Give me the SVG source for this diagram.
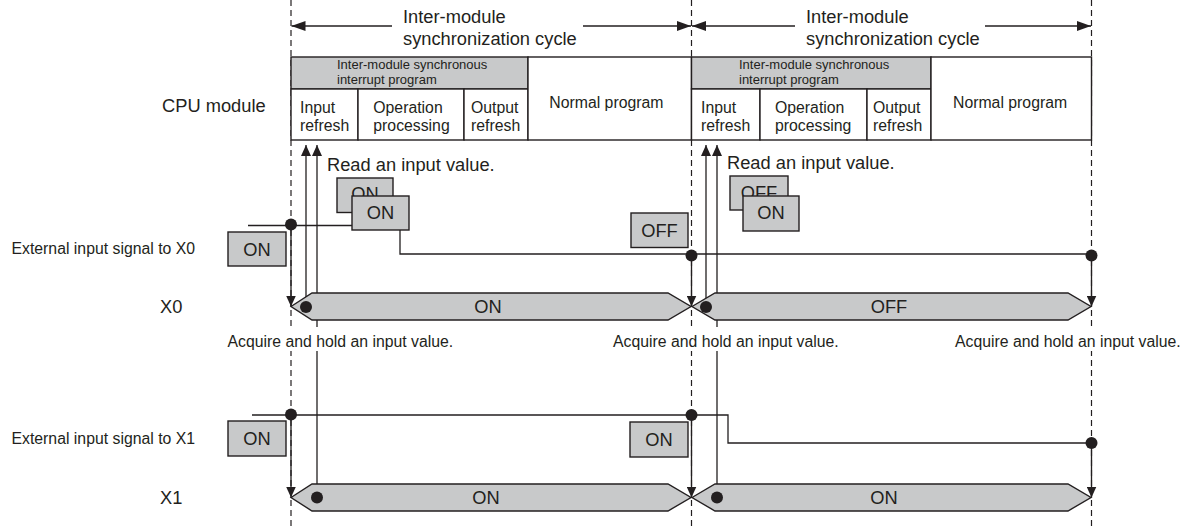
<svg xmlns="http://www.w3.org/2000/svg" width="1187" height="526" viewBox="0 0 1187 526">
<defs>
<style>
text{font-family:"Liberation Sans",Arial,sans-serif;fill:#231f20}
.t18{font-size:18.3px}
.t16{font-size:15.8px}
.t13{font-size:13px}
.c{text-anchor:middle}
.ln{stroke:#231f20;stroke-width:1.3;fill:none}
.dash{stroke:#231f20;stroke-width:1.2;stroke-dasharray:6 4;fill:none}
.box{fill:#c8c9ca;stroke:#231f20;stroke-width:1.4}
.cell{fill:#fff;stroke:#231f20;stroke-width:1.4}
.dot{fill:#231f20}
.ko{fill:#fff}
</style>
<marker id="ah" viewBox="0 0 11 10" refX="11" refY="5" markerWidth="11" markerHeight="10" markerUnits="userSpaceOnUse" orient="auto"><path d="M0,0L11,5L0,10z" fill="#231f20"/></marker>
<marker id="ahc" viewBox="0 0 14 10" refX="14" refY="5" markerWidth="14" markerHeight="10" markerUnits="userSpaceOnUse" orient="auto"><path d="M0,0L14,5L0,10z" fill="#231f20"/></marker>
</defs>
<rect width="1187" height="526" fill="#fff"/>

<g id="guides">
<line class="dash" x1="291" y1="0" x2="291" y2="526"/>
<line class="dash" x1="691.5" y1="0" x2="691.5" y2="526"/>
<line class="dash" x1="1091.5" y1="0" x2="1091.5" y2="526"/>
</g>

<g id="cycle1">
<text class="t18" x="403" y="22.5">Inter-module</text>
<text class="t18" x="403" y="45">synchronization cycle</text>
</g>
<g id="cycle2">
<text class="t18" x="806" y="22.5">Inter-module</text>
<text class="t18" x="806" y="45">synchronization cycle</text>
</g>

<g id="labels">
<text class="t18" x="162" y="111.5">CPU module</text>
<text class="t16" x="11.5" y="253.5">External input signal to X0</text>
<text class="t18" x="160" y="312.5">X0</text>
<text class="t16" x="11.5" y="444">External input signal to X1</text>
<text class="t18" x="160" y="504">X1</text>
<text class="t18" x="327" y="171">Read an input value.</text>
<text class="t18" x="727" y="169">Read an input value.</text>
</g>

<g id="cpu1">
<rect class="box" x="291" y="57" width="237" height="32"/>
<rect class="cell" x="291" y="89" width="67" height="51"/>
<rect class="cell" x="358" y="89" width="106" height="51"/>
<rect class="cell" x="464" y="89" width="64" height="51"/>
<rect class="cell" x="528" y="57" width="163.5" height="83"/>
<text class="t13" x="337" y="68.5">Inter-module synchronous</text>
<text class="t13" x="337" y="83.5">interrupt program</text>
<text class="t16" x="300" y="113.3">Input</text>
<text class="t16" x="300" y="131">refresh</text>
<text class="t16" x="373.3" y="113.3">Operation</text>
<text class="t16" x="373.3" y="131">processing</text>
<text class="t16" x="471" y="113.3">Output</text>
<text class="t16" x="471" y="131">refresh</text>
<text class="t16" x="549.3" y="108.3">Normal program</text>
</g>
<g id="cpu2">
<rect class="box" x="691.5" y="57" width="239.5" height="32"/>
<rect class="cell" x="691.5" y="89" width="68.5" height="51"/>
<rect class="cell" x="760" y="89" width="107" height="51"/>
<rect class="cell" x="867" y="89" width="64" height="51"/>
<rect class="cell" x="931" y="57" width="160.5" height="83"/>
<text class="t13" x="739" y="68.5">Inter-module synchronous</text>
<text class="t13" x="739" y="83.5">interrupt program</text>
<text class="t16" x="701" y="113.3">Input</text>
<text class="t16" x="701" y="131">refresh</text>
<text class="t16" x="775" y="113.3">Operation</text>
<text class="t16" x="775" y="131">processing</text>
<text class="t16" x="873" y="113.3">Output</text>
<text class="t16" x="873" y="131">refresh</text>
<text class="t16" x="953" y="108.3">Normal program</text>
</g>

<g id="connectors">
<line class="ln" x1="392" y1="26" x2="291.5" y2="26" marker-end="url(#ahc)"/>
<line class="ln" x1="583" y1="26" x2="691" y2="26" marker-end="url(#ahc)"/>
<line class="ln" x1="795" y1="26" x2="692" y2="26" marker-end="url(#ahc)"/>
<line class="ln" x1="985" y1="26" x2="1091" y2="26" marker-end="url(#ahc)"/>
<path class="ln" d="M248,225.5H400V254H1091.5"/>
<path class="ln" d="M252,415H728V443H1091.5"/>
<line class="ln" x1="306" y1="307" x2="306" y2="145" marker-end="url(#ah)"/>
<line class="ln" x1="317" y1="497" x2="317" y2="145" marker-end="url(#ah)"/>
<line class="ln" x1="706" y1="307" x2="706" y2="145" marker-end="url(#ah)"/>
<line class="ln" x1="717" y1="497" x2="717" y2="145" marker-end="url(#ah)"/>
</g>

<g id="acquire1"><rect class="ko" x="226" y="327" width="232" height="24"/><text class="t16" x="227.5" y="347">Acquire and hold an input value.</text></g>
<g id="acquire2"><rect class="ko" x="611" y="327" width="232" height="24"/><text class="t16" x="613" y="347">Acquire and hold an input value.</text></g>
<g id="acquire3"><rect class="ko" x="953" y="327" width="232" height="24"/><text class="t16" x="955" y="347">Acquire and hold an input value.</text></g>

<g id="x0bar1">
<path class="box" d="M291,306.5L312,293H668L691,306.5L668,320H312Z"/>
<text class="t18 c" x="488" y="313">ON</text>
</g>
<g id="x0bar2">
<path class="box" d="M692,306.5L715,293H1068L1091,306.5L1068,320H715Z"/>
<text class="t18 c" x="889" y="313">OFF</text>
</g>
<g id="x1bar1">
<path class="box" d="M291,497.5L312,484H668L691,497.5L668,511H312Z"/>
<text class="t18 c" x="486" y="504">ON</text>
</g>
<g id="x1bar2">
<path class="box" d="M692,497.5L715,484H1068L1091,497.5L1068,511H715Z"/>
<text class="t18 c" x="884" y="504">ON</text>
</g>

<g id="on-x0"><rect class="box" x="228" y="232" width="58" height="34"/><text class="t18 c" x="257" y="256">ON</text></g>
<g id="on-back1"><rect class="box" x="337" y="178" width="56" height="34.5"/><text class="t18 c" x="365" y="200">ON</text></g>
<g id="on-front1"><rect class="box" x="352" y="196" width="57" height="34"/><text class="t18 c" x="380.5" y="218.5">ON</text></g>
<g id="off-x0"><rect class="box" x="631" y="213" width="57" height="34.5"/><text class="t18 c" x="659.5" y="236.5">OFF</text></g>
<g id="off-back2"><rect class="box" x="730" y="176" width="58" height="34"/><text class="t18 c" x="759" y="198.5">OFF</text></g>
<g id="on-front2"><rect class="box" x="743" y="196" width="56" height="35"/><text class="t18 c" x="771" y="219">ON</text></g>
<g id="on-x1a"><rect class="box" x="228" y="421" width="58" height="35"/><text class="t18 c" x="257" y="444.5">ON</text></g>
<g id="on-x1b"><rect class="box" x="630" y="422" width="58" height="35"/><text class="t18 c" x="659" y="445.5">ON</text></g>

<g id="arrows-down">
<line class="ln" x1="291" y1="225.5" x2="291" y2="306.5" marker-end="url(#ah)"/>
<line class="ln" x1="691.5" y1="255" x2="691.5" y2="306.5" marker-end="url(#ah)"/>
<line class="ln" x1="1091.5" y1="255" x2="1091.5" y2="306.5" marker-end="url(#ah)"/>
<line class="ln" x1="291" y1="415" x2="291" y2="497.5" marker-end="url(#ah)"/>
<line class="ln" x1="691.5" y1="415" x2="691.5" y2="497.5" marker-end="url(#ah)"/>
<line class="ln" x1="1091.5" y1="443" x2="1091.5" y2="497.5" marker-end="url(#ah)"/>
</g>

<g id="dots">
<circle class="dot" cx="291" cy="224.5" r="6"/>
<circle class="dot" cx="306" cy="307" r="6"/>
<circle class="dot" cx="691.5" cy="255.5" r="6"/>
<circle class="dot" cx="706" cy="307" r="6"/>
<circle class="dot" cx="1091.5" cy="255.5" r="6"/>
<circle class="dot" cx="291" cy="414.5" r="6"/>
<circle class="dot" cx="317" cy="497.5" r="6"/>
<circle class="dot" cx="691.5" cy="415" r="6"/>
<circle class="dot" cx="717" cy="497.5" r="6"/>
<circle class="dot" cx="1091.5" cy="443" r="6"/>
</g>
</svg>
